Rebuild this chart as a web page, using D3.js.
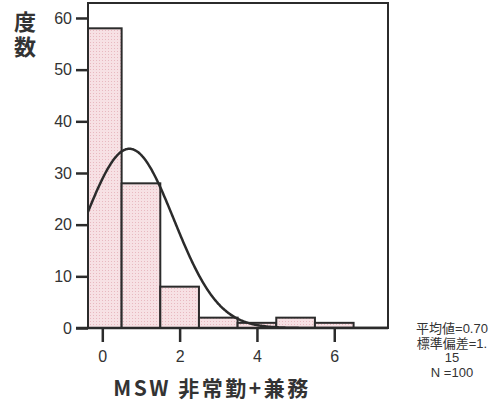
<!DOCTYPE html>
<html><head><meta charset="utf-8">
<script src="https://cdn.jsdelivr.net/npm/d3@7"></script>
<style>body{margin:0;background:#fff}svg{display:block}</style>
</head><body>
<svg id="c" width="500" height="406"></svg>
<script>
// Data
const binStarts = [-0.5, 0.5, 1.5, 2.5, 3.5, 4.5, 5.5];
const binWidth = 1;
const counts = [58, 28, 8, 2, 1, 2, 1];
const yTicks = [0, 10, 20, 30, 40, 50, 60];
const xTicks = [0, 2, 4, 6];
const meanVal = 0.70, sdVal = 1.15, nVal = 100;
const statLines = ["平均値=0.70", "標準偏差=1.", "15", "N =100"];
const yTitle = "度数";
const xTitle = "MSW 非常勤+兼務";

const svg = d3.select("#c");
const L = 88, R = 388, T = 3, B = 328;
const x = d3.scaleLinear().domain([-0.37, 7.39]).range([L, R]);
const y = d3.scaleLinear().domain([0, 62.9]).range([B, T]);
const ink = "#2b2b2b";

const defs = svg.append("defs");
defs.append("clipPath").attr("id", "clip").append("rect")
  .attr("x", L).attr("y", T).attr("width", R - L).attr("height", B - T);
const pat = defs.append("pattern").attr("id", "dots").attr("width", 3).attr("height", 3)
  .attr("patternUnits", "userSpaceOnUse");
pat.append("rect").attr("width", 3).attr("height", 3).attr("fill", "#f7e1e4");
pat.append("rect").attr("width", 1).attr("height", 1).attr("fill", "#e8b9c0");

const g = svg.append("g").attr("clip-path", "url(#clip)");
g.selectAll("rect.bar").data(counts).join("rect").attr("class", "bar")
  .attr("x", (d, i) => x(binStarts[i]))
  .attr("width", (d, i) => x(binStarts[i] + binWidth) - x(binStarts[i]))
  .attr("y", d => y(d)).attr("height", d => B - y(d))
  .attr("fill", "url(#dots)").attr("stroke", ink).attr("stroke-width", 2);

// Normal curve from the stated mean / SD / N
const xs = d3.range(-0.37, 7.39, 0.02);
const norm = v => nVal * binWidth / (sdVal * Math.sqrt(2 * Math.PI)) * Math.exp(-0.5 * ((v - meanVal) / sdVal) ** 2);
g.append("path").datum(xs)
  .attr("d", d3.line().x(v => x(v)).y(v => y(norm(v))).curve(d3.curveBasis))
  .attr("fill", "none").attr("stroke", ink).attr("stroke-width", 2.5);

// Frame
svg.append("rect").attr("x", L).attr("y", T).attr("width", R - L).attr("height", B - T)
  .attr("fill", "none").attr("stroke", ink).attr("stroke-width", 2);

// Axes
const yAxis = svg.append("g").attr("transform", `translate(${L},0)`)
  .call(d3.axisLeft(y).tickValues(yTicks).tickSize(12).tickPadding(4).tickFormat(d3.format("d")));
const xAxis = svg.append("g").attr("transform", `translate(0,${B})`)
  .call(d3.axisBottom(x).tickValues(xTicks).tickSize(14).tickPadding(9).tickFormat(d3.format("d")));
[yAxis, xAxis].forEach(a => {
  a.select(".domain").remove();
  a.selectAll("line").attr("stroke", ink).attr("stroke-width", 2.5);
  a.selectAll("text").attr("fill", "#333").style("font-family", "Liberation Sans, Arial, sans-serif").style("font-size", "16px");
});
svg.append("line").attr("x1", L - 12).attr("x2", R).attr("y1", B).attr("y2", B)
  .attr("stroke", ink).attr("stroke-width", 2.5);

// Titles
svg.append("text").attr("x", 25).attr("y", 11)
  .style("writing-mode", "vertical-rl").style("text-orientation", "upright")
  .style("font-family", "Noto Sans CJK JP").style("font-weight", "bold").style("font-size", "22px")
  .style("letter-spacing", "3px")
  .attr("fill", "#333").text(yTitle);
svg.append("text").attr("x", 212).attr("y", 396).attr("text-anchor", "middle")
  .style("font-family", "Noto Sans CJK JP").style("font-weight", "bold").style("font-size", "21px")
  .style("letter-spacing", "2.5px").attr("fill", "#333").text(xTitle);

svg.selectAll("text.st").data(statLines).join("text").attr("class", "st")
  .attr("x", 452).attr("y", (d, i) => 333 + i * 14.5).attr("text-anchor", "middle")
  .style("font-family", "Liberation Sans, Noto Sans CJK JP, sans-serif").style("font-size", "13px")
  .attr("fill", "#333").text(d => d);
</script>
</body></html>
